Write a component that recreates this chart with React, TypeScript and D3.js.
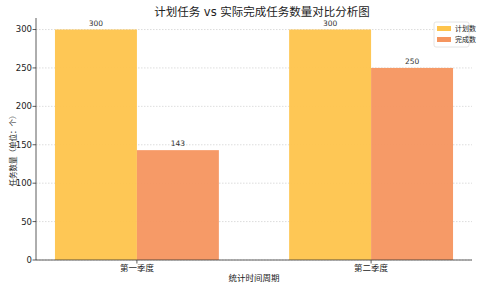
import React from "react";
import * as d3 from "d3";

const categories = ["第一季度", "第二季度"];
const seriesNames = ["计划数", "完成数"];
const planned = [300, 300];
const completed = [143, 250];
const yTicks = [0, 50, 100, 150, 200, 250, 300];
const titleText = "计划任务 vs 实际完成任务数量对比分析图";
const xLabel = "统计时间周期";
const yLabel = "任务数量（单位：个）";
const colors = ["#FEC44C", "#F5955F"];

const W = 480, H = 288;
const M = { left: 36, right: 8, top: 18, bottom: 28 };
const FONT = "'DejaVu Sans', 'Noto Sans CJK SC', sans-serif";

export default function App() {
  const x = d3.scaleLinear().domain([-0.431, 1.431]).range([M.left, W - M.right]);
  const y = d3.scaleLinear().domain([0, 315]).range([H - M.bottom, M.top]);
  const bw = 0.35;
  const series = [planned, completed];
  return (
    <svg width={W} height={H} style={{ position: "absolute", left: 0, top: 0, background: "#fff" }} fontFamily={FONT}>
      {yTicks.map((t) => (
        <g key={t}>
          <line x1={M.left} x2={W - M.right} y1={y(t)} y2={y(t)} stroke="#cfcfcf" strokeWidth={0.7} strokeDasharray="1.5,1.5" />
          <line x1={M.left - 3.5} x2={M.left} y1={y(t)} y2={y(t)} stroke="#333" strokeWidth={0.8} />
          <text x={M.left - 4} y={y(t)} dy="0.35em" textAnchor="end" fontSize={8.5} fill="#222">{t}</text>
        </g>
      ))}
      {series.map((vals, si) =>
        vals.map((v, ci) => {
          const x0 = ci + (si === 0 ? -bw : 0);
          const x1 = x0 + bw;
          return (
            <g key={`${si}-${ci}`}>
              <rect x={x(x0)} y={y(v)} width={x(x1) - x(x0)} height={y(0) - y(v)} fill={colors[si]} fillOpacity={0.95} />
              <text x={(x(x0) + x(x1)) / 2} y={y(v) - 4} textAnchor="middle" fontSize={7.5} fill="#333">{v}</text>
            </g>
          );
        })
      )}
      <line x1={M.left} x2={M.left} y1={M.top} y2={H - M.bottom} stroke="#333" strokeWidth={0.8} />
      <line x1={M.left} x2={W - M.right} y1={H - M.bottom} y2={H - M.bottom} stroke="#333" strokeWidth={0.8} />
      {categories.map((c, i) => (
        <g key={c}>
          <line x1={x(i)} x2={x(i)} y1={H - M.bottom} y2={H - M.bottom + 3.5} stroke="#333" strokeWidth={0.8} />
          <text x={x(i)} y={H - M.bottom + 10.5} textAnchor="middle" fontSize={8.5} fill="#222">{c}</text>
        </g>
      ))}
      <text x={(M.left + W - M.right) / 2} y={H - 7} textAnchor="middle" fontSize={8.5} fill="#222">{xLabel}</text>
      <text transform={`translate(15.5,${(M.top + H - M.bottom) / 2 + 10}) rotate(-90)`} textAnchor="middle" fontSize={7.5} fill="#222">{yLabel}</text>
      <text x={262} y={16} textAnchor="middle" fontSize={11.5} fill="#222">{titleText}</text>
      <g transform="translate(434,22)">
        <rect x={0} y={0} width={35} height={25} rx={2} fill="#fff" fillOpacity={0.8} stroke="#ddd" strokeWidth={0.8} />
        {seriesNames.map((n, i) => (
          <g key={n} transform={`translate(3,${4 + i * 11})`}>
            <rect x={0} y={0} width={14} height={5} fill={colors[i]} />
            <text x={18} y={3} dy="0.35em" fontSize={7} fill="#222">{n}</text>
          </g>
        ))}
      </g>
    </svg>
  );
}
